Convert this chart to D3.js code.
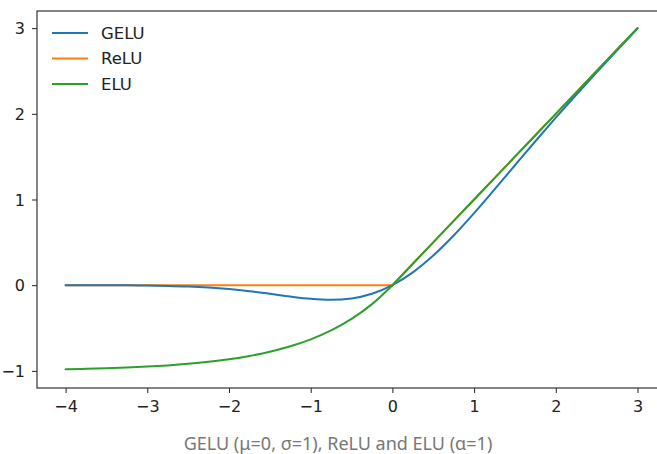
<!DOCTYPE html>
<html>
<head>
<meta charset="utf-8">
<script src="https://cdn.jsdelivr.net/npm/d3@7"></script>
<style>
  html, body { margin: 0; padding: 0; background: #fff; }
  svg { display: block; }
  .tick text { font-family: "DejaVu Sans", sans-serif; font-size: 16px; fill: #222; }
</style>
</head>
<body>
<svg id="chart" width="657" height="454"></svg>
<script>
// Sample points (x) and the three activation functions evaluated there
const xs = [-4, -3.75, -3.5, -3.25, -3, -2.75, -2.5, -2.25, -2, -1.75, -1.5, -1.25, -1,
            -0.75, -0.5, -0.25, 0, 0.25, 0.5, 0.75, 1, 1.25, 1.5, 1.75, 2, 2.25, 2.5, 2.75, 3];
const gelu = [-0.0001, -0.0003, -0.0008, -0.0019, -0.0040, -0.0082, -0.0155, -0.0275, -0.0455,
              -0.0701, -0.1002, -0.1321, -0.1587, -0.1700, -0.1543, -0.1003, 0, 0.1497, 0.3457,
              0.5800, 0.8413, 1.1179, 1.3998, 1.6799, 1.9545, 2.2225, 2.4845, 2.7418, 2.9960];
const relu = [0, 0, 0, 0, 0, 0, 0, 0, 0, 0, 0, 0, 0, 0, 0, 0, 0,
              0.25, 0.5, 0.75, 1, 1.25, 1.5, 1.75, 2, 2.25, 2.5, 2.75, 3];
const elu = [-0.9817, -0.9765, -0.9698, -0.9612, -0.9502, -0.9361, -0.9179, -0.8946, -0.8647,
             -0.8262, -0.7769, -0.7135, -0.6321, -0.5276, -0.3935, -0.2212, 0, 0.25, 0.5,
             0.75, 1, 1.25, 1.5, 1.75, 2, 2.25, 2.5, 2.75, 3];

const seriesNames = ["GELU", "ReLU", "ELU"];
const seriesColors = ["#1f77b4", "#ff7f0e", "#2ca02c"];
const xTicks = [-4, -3, -2, -1, 0, 1, 2, 3];
const yTicks = [-1, 0, 1, 2, 3];
const caption = "GELU (μ=0, σ=1), ReLU and ELU (α=1)";

const svg = d3.select("#chart");
const plotLeft = 37, plotTop = 11, plotBottom = 388;
const x = d3.scaleLinear().domain([-4.35, 3.35]).range([plotLeft, plotLeft + 7.7 * 81.7]);
const y = d3.scaleLinear().domain([-1.2, 3.2]).range([plotBottom, plotTop]);
const plotRight = x.range()[1];

const fmt = d => d < 0 ? "\u2212" + Math.abs(d) : String(d);

// Axes
const xAxis = d3.axisBottom(x).tickValues(xTicks).tickFormat(fmt).tickSize(5).tickPadding(8);
const yAxis = d3.axisLeft(y).tickValues(yTicks).tickFormat(fmt).tickSize(5).tickPadding(7);

svg.append("g").attr("transform", `translate(0,${plotBottom})`).call(xAxis)
  .call(g => g.select(".domain").remove())
  .call(g => g.selectAll(".tick line").attr("stroke", "#222"));
svg.append("g").attr("transform", `translate(${plotLeft},0)`).call(yAxis)
  .call(g => g.select(".domain").remove())
  .call(g => g.selectAll(".tick line").attr("stroke", "#222"))
  .call(g => g.selectAll(".tick text").attr("dy", "0.36em"));

// Frame
svg.append("rect")
  .attr("x", plotLeft).attr("y", plotTop)
  .attr("width", plotRight - plotLeft).attr("height", plotBottom - plotTop)
  .attr("fill", "none").attr("stroke", "#333").attr("stroke-width", 1.2);

// Curves, painted ReLU first, then GELU, then ELU on top
const data = [gelu, relu, elu];
const curves = [d3.curveMonotoneX, d3.curveLinear, d3.curveMonotoneX];
[1, 0, 2].forEach(i => {
  const line = d3.line()
    .x((d, j) => x(xs[j]))
    .y(d => y(d))
    .curve(curves[i]);
  svg.append("path")
    .datum(data[i])
    .attr("d", line)
    .attr("fill", "none")
    .attr("stroke", seriesColors[i])
    .attr("stroke-width", 2)
    .attr("stroke-linejoin", "round")
    .attr("stroke-linecap", "round");
});

// Legend
const legend = svg.append("g").attr("transform", "translate(52,33)");
seriesNames.forEach((name, i) => {
  const g = legend.append("g").attr("transform", `translate(0,${i * 25.5})`);
  g.append("line").attr("x1", 0).attr("x2", 36).attr("y1", 0).attr("y2", 0)
    .attr("stroke", seriesColors[i]).attr("stroke-width", 2);
  g.append("text").attr("x", 49).attr("y", 0).attr("dy", "0.36em")
    .attr("font-family", "DejaVu Sans, sans-serif").attr("font-size", 16.5)
    .attr("fill", "#222").text(name);
});

// Caption
svg.append("text")
  .attr("x", 338).attr("y", 450)
  .attr("text-anchor", "middle")
  .attr("font-family", "Noto Sans, sans-serif").attr("font-size", 18)
  .attr("fill", "#777").text(caption);
</script>
</body>
</html>
